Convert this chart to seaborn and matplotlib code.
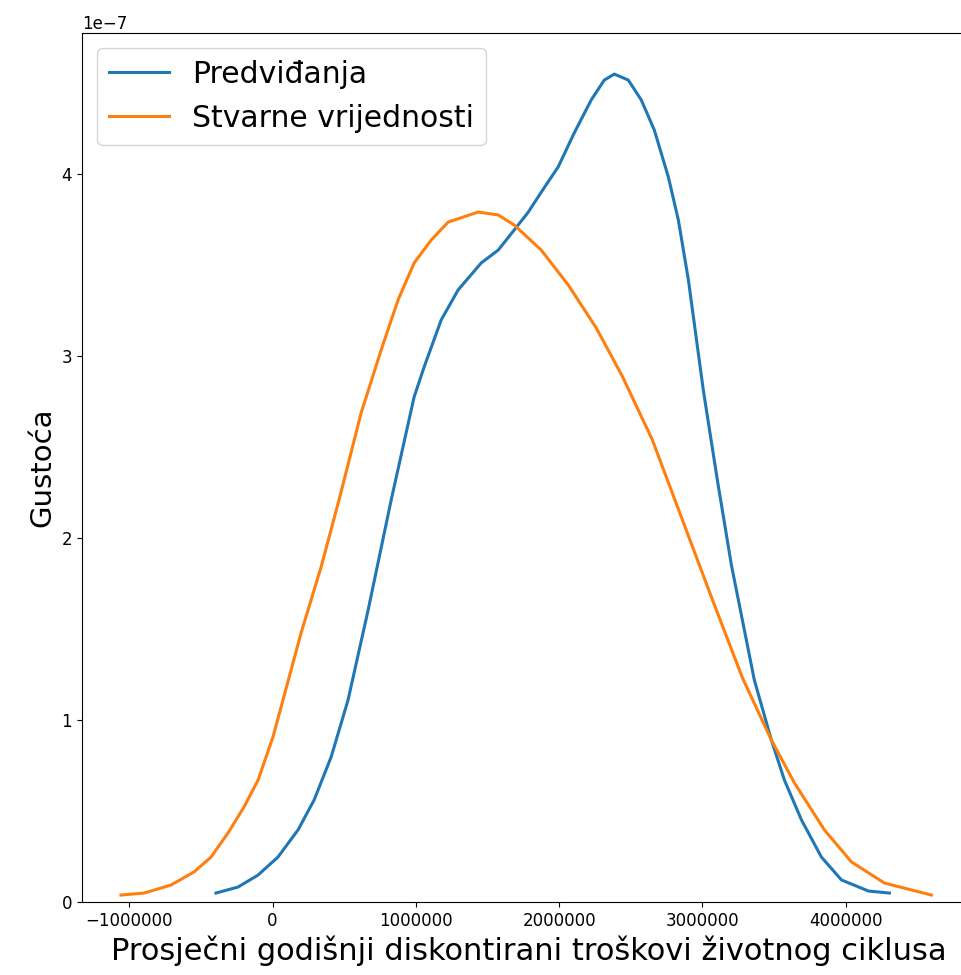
import numpy as np
import pandas as pd
import matplotlib
matplotlib.use("Agg")
import matplotlib.pyplot as plt
import seaborn as sns

# Density curves (x in millions, density in units of 1e-7)
pred_x = [-0.395, -0.241, -0.101, 0.038, 0.178, 0.290, 0.409, 0.527, 0.667,
          0.828, 0.988, 1.058, 1.177, 1.295, 1.456, 1.575, 1.686, 1.784,
          1.875, 1.994, 2.105, 2.224, 2.315, 2.385, 2.483, 2.573, 2.664,
          2.762, 2.832, 2.902, 3.006, 3.104, 3.202, 3.362, 3.481, 3.572,
          3.691, 3.830, 3.970, 4.159, 4.305]
pred_y = [0.049, 0.082, 0.148, 0.247, 0.396, 0.560, 0.797, 1.110, 1.604,
          2.209, 2.775, 2.940, 3.198, 3.363, 3.511, 3.582, 3.692, 3.790,
          3.900, 4.040, 4.225, 4.407, 4.516, 4.549, 4.516, 4.407, 4.242,
          3.984, 3.747, 3.418, 2.813, 2.319, 1.852, 1.220, 0.890, 0.670,
          0.451, 0.247, 0.121, 0.060, 0.049]

real_x = [-1.058, -0.897, -0.709, -0.548, -0.429, -0.311, -0.199, -0.101,
          0.003, 0.073, 0.199, 0.339, 0.464, 0.618, 0.758, 0.876, 0.988,
          1.107, 1.226, 1.435, 1.575, 1.686, 1.875, 2.064, 2.259, 2.440,
          2.650, 2.860, 3.070, 3.280, 3.481, 3.642, 3.851, 4.040, 4.270,
          4.598]
real_y = [0.038, 0.049, 0.093, 0.165, 0.247, 0.379, 0.522, 0.670, 0.907,
          1.110, 1.478, 1.841, 2.209, 2.687, 3.033, 3.308, 3.511, 3.637,
          3.736, 3.791, 3.775, 3.720, 3.582, 3.390, 3.154, 2.890, 2.540,
          2.100, 1.660, 1.230, 0.890, 0.654, 0.396, 0.220, 0.104, 0.038]

labels = ["Predviđanja", "Stvarne vrijednosti"]
x_ticks = [-1000000, 0, 1000000, 2000000, 3000000, 4000000]

pred = pd.DataFrame({"x": np.array(pred_x) * 1e6, "y": np.array(pred_y) * 1e-7})
real = pd.DataFrame({"x": np.array(real_x) * 1e6, "y": np.array(real_y) * 1e-7})

fig = plt.figure(figsize=(9.62, 9.75), dpi=100)
ax = fig.add_axes([0.0852, 0.0749, 0.928, 0.8913])

sns.lineplot(data=pred, x="x", y="y", color="#1f77b4", linewidth=2.2,
             label=labels[0], ax=ax, solid_joinstyle="round")
sns.lineplot(data=real, x="x", y="y", color="#ff7f0e", linewidth=2.2,
             label=labels[1], ax=ax, solid_joinstyle="round")

ax.set_xlim(-1.33e6, 4.9e6)
ax.set_ylim(0, 4.775e-7)
ax.set_xticks(x_ticks)
ax.ticklabel_format(axis="x", style="plain", useOffset=False)
ax.tick_params(labelsize=12)
ax.yaxis.get_offset_text().set_fontsize(12)

ax.set_xlabel("Prosječni godišnji diskontirani troškovi životnog ciklusa", fontsize=22)
ax.set_ylabel("Gustoća", fontsize=21)
ax.legend(loc="upper left", fontsize=21.5)

fig.savefig("out.png", dpi=100)
